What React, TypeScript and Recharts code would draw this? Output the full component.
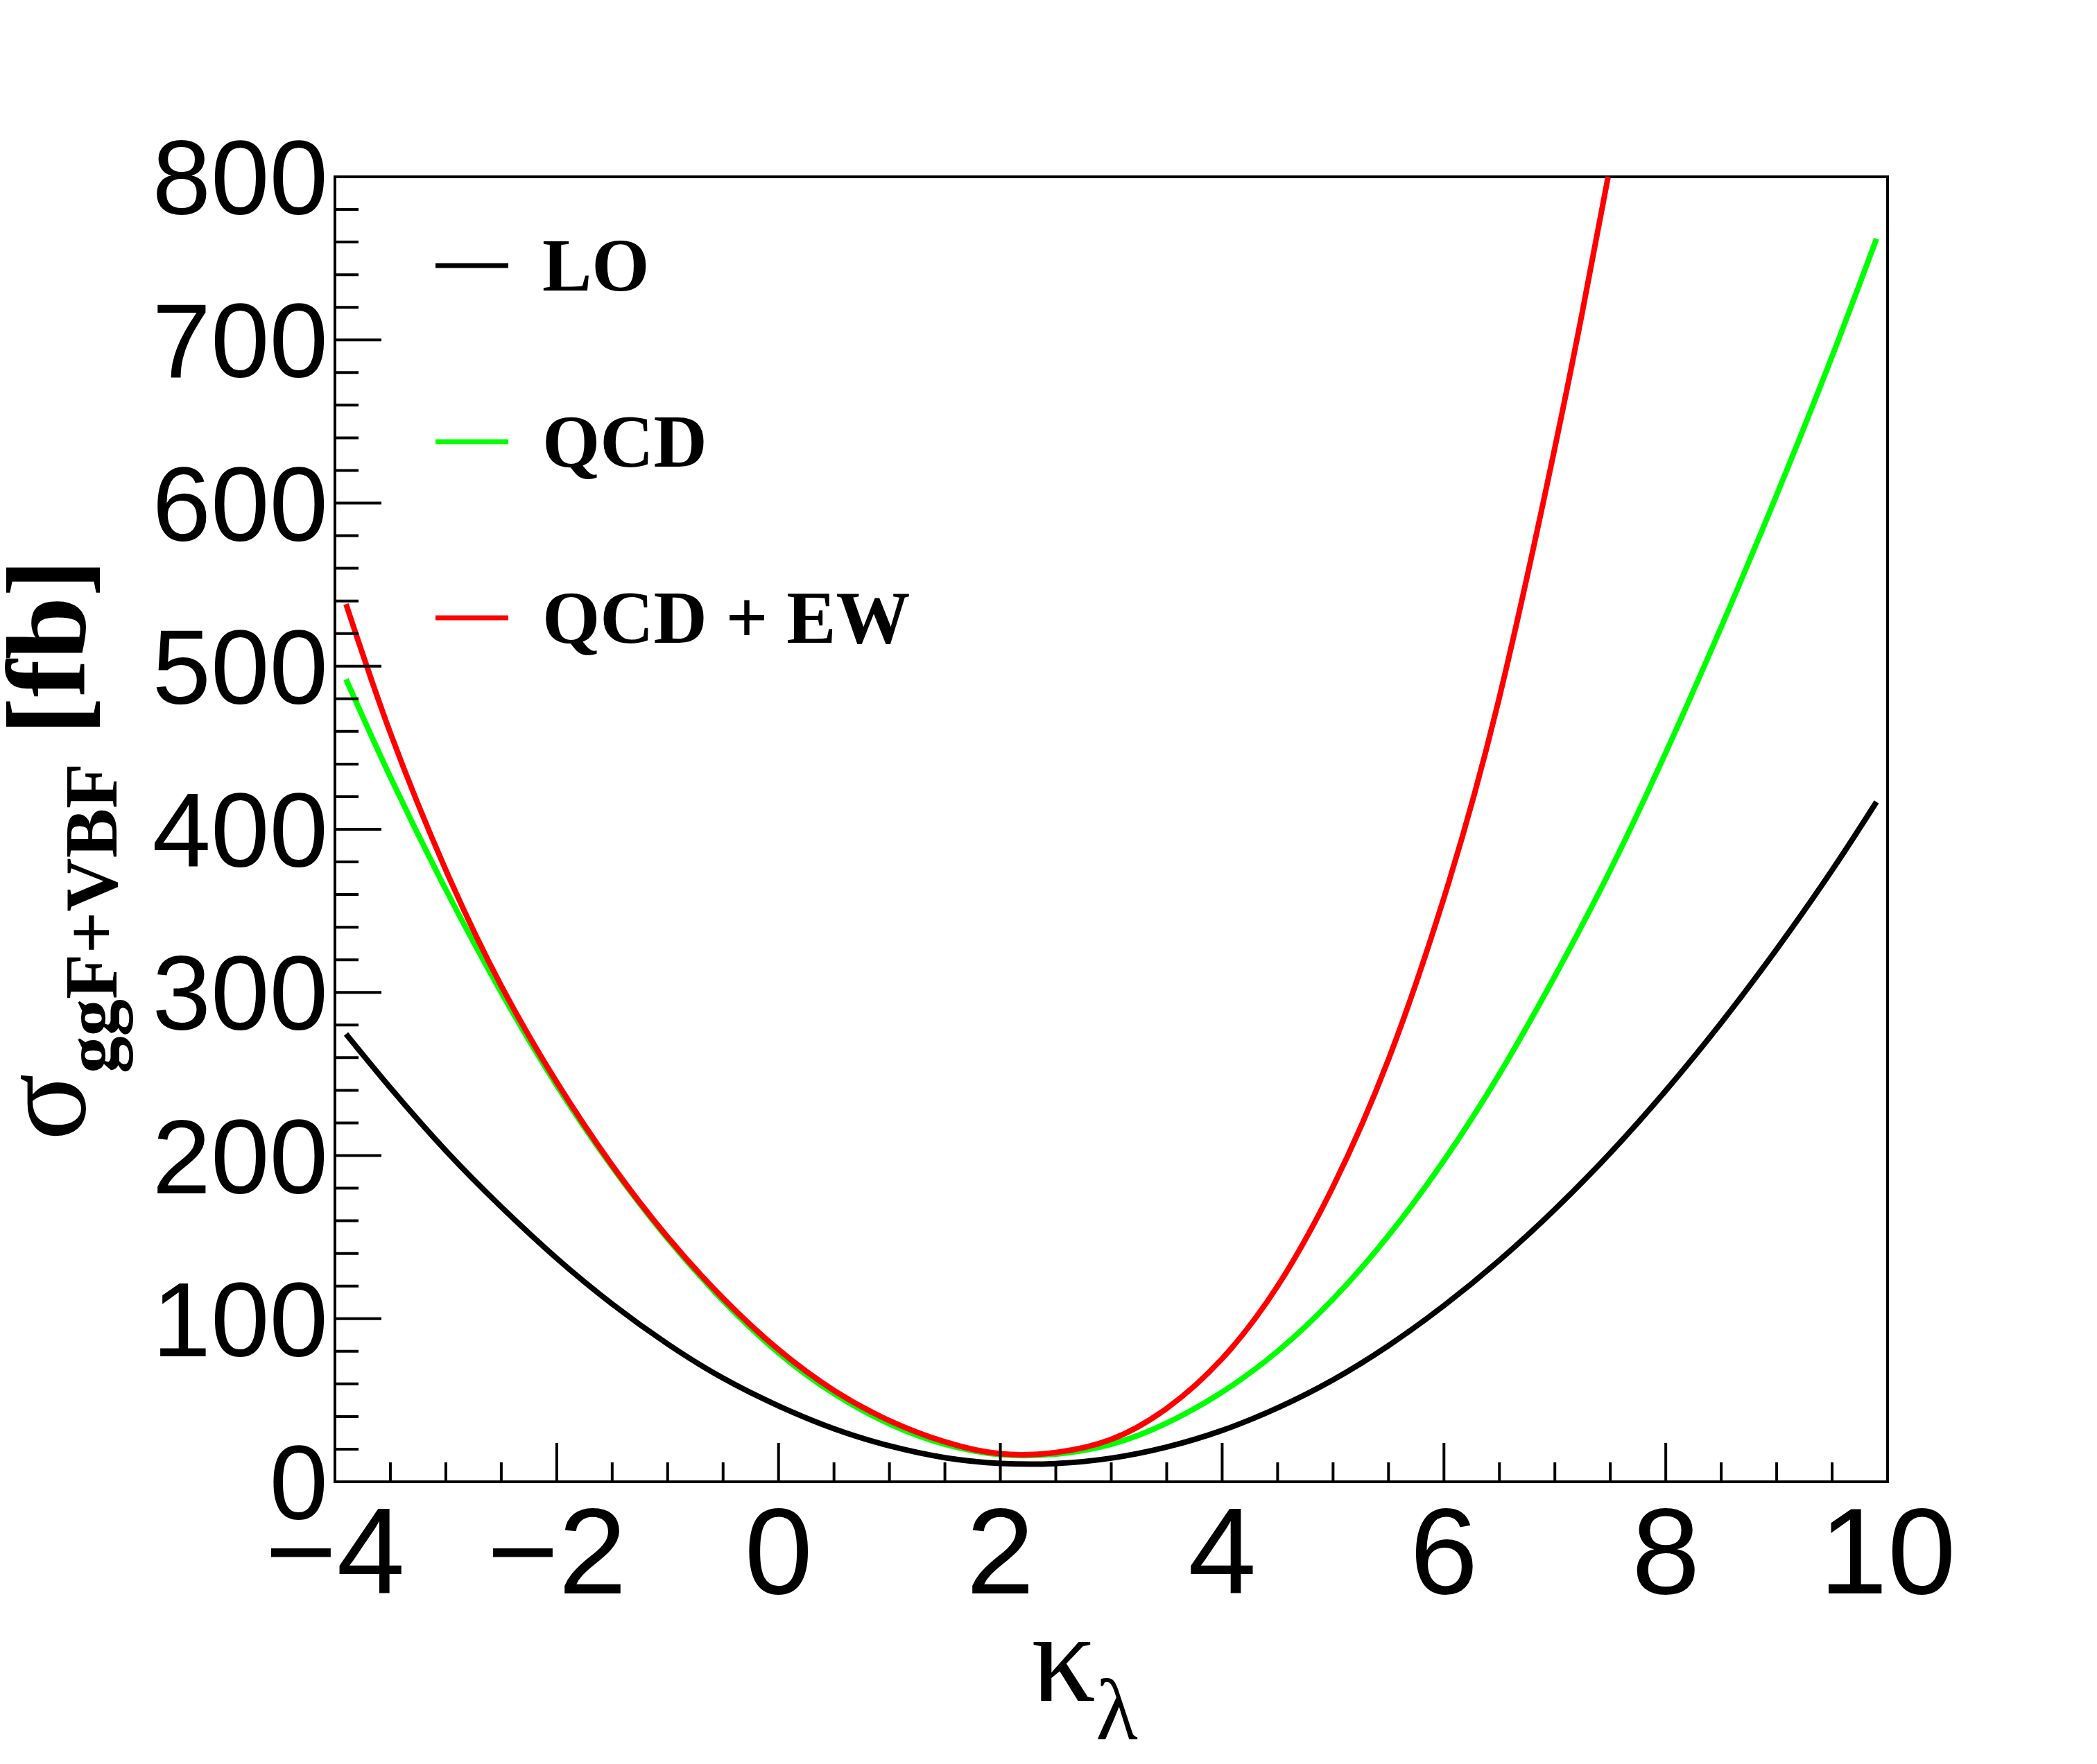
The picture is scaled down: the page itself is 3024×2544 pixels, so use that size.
import { LineChart, Line, XAxis, YAxis, ReferenceArea, Legend } from 'recharts'

// kappa_lambda sample points and cross sections [fb]
const K_FULL = [-3.9, -3.5, -3, -2.5, -2, -1.5, -1, -0.5, 0, 0.5, 1, 1.5, 2, 2.5, 3, 3.5, 4, 4.5, 5, 5.5, 6, 6.5, 7, 7.5, 8, 8.5, 9, 9.5, 9.9]
const SIGMA_LO = [274.5, 241.5, 203, 168.5, 137, 109, 84.5, 63.5, 46.5, 32.5, 22, 14.8, 11.3, 11.2, 14.5, 21.3, 31.5, 45.3, 62.5, 83.5, 108, 135.8, 167, 201.6, 239.8, 281.4, 326.5, 375, 416.8]
const SIGMA_QCD = [492, 432, 363, 300, 243, 193, 149, 111, 79, 54, 35.5, 23, 16.7, 17, 23, 36, 55, 80, 112, 151, 197, 250, 310, 375, 447, 524, 605, 690, 762]

// QCD + EW leaves the frame at the top, so it has its own points
const K_EW = [-3.9, -3.5, -3, -2.5, -2, -1.5, -1, -0.5, 0, 0.5, 1, 1.5, 2, 2.5, 3, 3.5, 4, 4.5, 5, 5.5, 6, 6.5, 7, 7.25, 7.48]
const SIGMA_QCD_EW = [538, 459, 375, 304, 245, 194, 150, 112.5, 81, 56, 37.5, 24.5, 17.2, 18, 26, 45, 75.5, 120, 181, 259, 358, 481, 634, 718, 800]

const X_TICKS = [-4, -3.5, -3, -2.5, -2, -1.5, -1, -0.5, 0, 0.5, 1, 1.5, 2, 2.5, 3, 3.5, 4, 4.5, 5, 5.5, 6, 6.5, 7, 7.5, 8, 8.5, 9, 9.5, 10]
const Y_TICKS = [0, 20, 40, 60, 80, 100, 120, 140, 160, 180, 200, 220, 240, 260, 280, 300, 320, 340, 360, 380, 400, 420, 440, 460, 480, 500, 520, 540, 560, 580, 600, 620, 640, 660, 680, 700, 720, 740, 760, 780, 800]

const SANS = '"Liberation Sans", Arial, Helvetica, sans-serif'
const SERIF = '"Liberation Serif", "Times New Roman", serif'

const toPoints = (ks: number[], vs: number[]) => ks.map((k, i) => ({ k, v: vs[i] }))

const fmt = (v: number) => (v < 0 ? '\u2212' + Math.abs(v) : String(v))

function XTick({ x, y, payload }: any) {
  const v = payload.value as number
  const major = v % 2 === 0
  return (
    <g>
      <line x1={x} x2={x} y1={y} y2={y - (major ? 56 : 28)} stroke="#000" strokeWidth={4} />
      {major && (
        <text x={x} y={y + 161} textAnchor="middle" fontSize={177} fontFamily={SANS} fill="#000">
          {fmt(v)}
        </text>
      )}
    </g>
  )
}

function YTick({ x, y, payload }: any) {
  const v = payload.value as number
  const major = v % 100 === 0
  return (
    <g>
      <line x1={x} x2={x + (major ? 67 : 34)} y1={y} y2={y} stroke="#000" strokeWidth={4} />
      {major && (
        <text x={x - 10} y={y + 54} textAnchor="end" fontSize={152} fontFamily={SANS} fill="#000">
          {v}
        </text>
      )}
    </g>
  )
}

function XTitle() {
  return (
    <text x={1487} y={2453} fontSize={185} fontFamily={SERIF} fill="#000">
      κ<tspan fontSize={125} dy={55}>λ</tspan>
    </text>
  )
}

function YTitle() {
  return (
    <text transform="rotate(-90)" x={-1645} y={122} fontFamily={SERIF} fontWeight="bold" fill="#000">
      <tspan fontSize={180} fontWeight="normal">σ</tspan>
      <tspan fontSize={107} dy={46}>ggF+VBF</tspan>
      <tspan fontSize={163} dy={-46}>{'\u00a0[fb]'}</tspan>
    </text>
  )
}

function LegendBox({ payload }: any) {
  return (
    <svg width={800} height={620}>
      {(payload ?? []).map((e: any, i: number) => (
        <g key={e.value}>
          <line x1={28} x2={133} y1={53 + i * 254} y2={53 + i * 254} stroke={e.color} strokeWidth={7} />
          <text x={182} y={89 + i * 254} fontSize={107} fontWeight="bold" fontFamily={SERIF} fill="#000">
            {e.value}
          </text>
        </g>
      ))}
    </svg>
  )
}

export default function App() {
  return (
    <div style={{ position: 'absolute', left: 0, top: 0, width: 3024, height: 2544, background: '#fff' }}>
      <LineChart width={3024} height={2544} margin={{ top: 255, right: 302, bottom: 207, left: 233 }}>
        <XAxis
          type="number" dataKey="k" domain={[-4, 10]} ticks={X_TICKS} interval={0}
          height={200} axisLine={false} tickLine={false} tickSize={0} tickMargin={0}
          tick={<XTick />} label={{ content: () => <XTitle /> }}
        />
        <YAxis
          type="number" domain={[0, 800]} ticks={Y_TICKS} interval={0}
          width={250} axisLine={false} tickLine={false} tickSize={0} tickMargin={0}
          tick={<YTick />} label={{ content: () => <YTitle /> }}
        />
        <ReferenceArea x1={-4} x2={10} y1={0} y2={800} fill="none" stroke="#000" strokeWidth={4} ifOverflow="visible" />
        <Legend
          layout="horizontal" verticalAlign="middle" align="center"
          wrapperStyle={{ left: 600, top: 330, width: 800, height: 620 }}
          content={<LegendBox />}
        />
        <Line data={toPoints(K_FULL, SIGMA_LO)} dataKey="v" name="LO" type="natural"
          stroke="#000000" strokeWidth={8} dot={false} isAnimationActive={false} />
        <Line data={toPoints(K_FULL, SIGMA_QCD)} dataKey="v" name="QCD" type="natural"
          stroke="#00ff00" strokeWidth={8} dot={false} isAnimationActive={false} />
        <Line data={toPoints(K_EW, SIGMA_QCD_EW)} dataKey="v" name="QCD + EW" type="natural"
          stroke="#ff0000" strokeWidth={8} dot={false} isAnimationActive={false} />
      </LineChart>
    </div>
  )
}
